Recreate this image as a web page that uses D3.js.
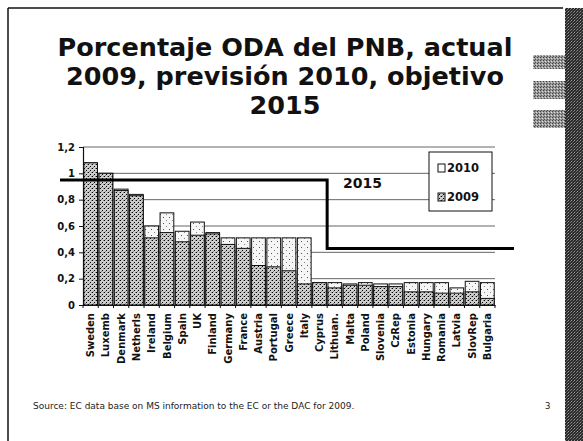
<!DOCTYPE html>
<html>
<head>
<meta charset="utf-8">
<script src="https://cdn.jsdelivr.net/npm/d3@7"></script>
<style>
  html, body { margin: 0; padding: 0; background: #fff; }
  svg { display: block; }
</style>
</head>
<body>
<svg id="chart" width="583" height="441"></svg>
<script>
// ---- data ----
const categories = ["Sweden","Luxemb","Denmark","Netherls","Ireland","Belgium","Spain","UK","Finland","Germany","France","Austria","Portugal","Greece","Italy","Cyprus","Lithuan.","Malta","Poland","Slovenia","CzRep","Estonia","Hungary","Romania","Latvia","SlovRep","Bulgaria"];
const values2009 = [1.08,1.00,0.87,0.83,0.51,0.55,0.48,0.53,0.54,0.46,0.43,0.30,0.29,0.26,0.16,0.17,0.13,0.15,0.15,0.14,0.14,0.10,0.10,0.09,0.09,0.10,0.05];
const values2010 = [1.08,1.00,0.88,0.84,0.60,0.70,0.56,0.63,0.55,0.51,0.51,0.51,0.51,0.51,0.51,0.17,0.17,0.16,0.17,0.16,0.16,0.17,0.17,0.17,0.13,0.18,0.17];
const yTicks = [0,0.2,0.4,0.6,0.8,1,1.2];
const target2015High = 0.95;   // old members (Sweden..Cyprus)
const target2015Low = 0.43;    // from Lithuan. onwards
const stepCategory = "Lithuan.";
const seriesNames = ["2010","2009"];
const titleLines = ["Porcentaje ODA del PNB, actual","2009, previsión 2010, objetivo","2015"];
const targetLabel = "2015";
const sourceText = "Source: EC data base on MS information to the EC or the DAC for 2009.";
const pageNumber = "3";

// ---- setup ----
const svg = d3.select("#chart");
const defs = svg.append("defs");
const FONT = "'DejaVu Sans', Verdana, sans-serif";

function stipple(id, base, dots, size) {
  const p = defs.append("pattern").attr("id", id).attr("patternUnits", "userSpaceOnUse")
    .attr("width", size).attr("height", size);
  p.append("rect").attr("width", size).attr("height", size).attr("fill", base);
  dots.forEach(d => p.append("rect").attr("x", d[0]).attr("y", d[1]).attr("width", 1).attr("height", 1).attr("fill", d[2] || "#000"));
}
stipple("p2009", "#cdcdcd", [[0,0],[2,2],[3,0,"#888"],[1,3,"#888"]], 4);
stipple("p2010", "#f6f6f6", [[1,1,"#555"],[4,4,"#888"]], 6);
stipple("pStrip", "#2a2a2a", [[0,0,"#777"],[2,1,"#555"],[1,2,"#999"]], 3);
stipple("pTab", "#9a9a9a", [[0,0,"#444"],[2,1,"#ddd"],[1,2,"#555"]], 3);

const x = d3.scaleBand().domain(categories).range([83, 495]).paddingInner(0.1).paddingOuter(0.05);
const y = d3.scaleLinear().domain([0, 1.2]).range([305, 147]);
const fmt = d3.formatLocale({decimal: ",", thousands: ".", grouping: [3], currency: ["", ""]}).format(".1~f");

// ---- slide frame ----
svg.append("line").attr("x1", 8).attr("x2", 8).attr("y1", 8).attr("y2", 441).attr("stroke", "#111").attr("stroke-width", 1.5);
svg.append("line").attr("x1", 8).attr("x2", 563).attr("y1", 8).attr("y2", 8).attr("stroke", "#111").attr("stroke-width", 1.5);
svg.append("rect").attr("x", 565).attr("y", 8).attr("width", 18).attr("height", 433).attr("fill", "url(#pStrip)");
[[55,14],[81,18],[110,18]].forEach(t => {
  svg.append("rect").attr("x", 533).attr("y", t[0]).attr("width", 32).attr("height", t[1]).attr("fill", "url(#pTab)");
});

// ---- title ----
const title = svg.append("text").attr("x", 285).attr("text-anchor", "middle")
  .attr("font-family", FONT).attr("font-weight", "bold").attr("font-size", 25.5).attr("fill", "#111");
titleLines.forEach((t, i) => title.append("tspan").attr("x", 285).attr("y", 56 + i * 29).text(t));

// ---- gridlines ----
const g = svg.append("g");
g.selectAll("line.grid").data(yTicks.filter(d => d > 0)).join("line")
  .attr("x1", 83).attr("x2", 495).attr("y1", d => y(d)).attr("y2", d => y(d))
  .attr("stroke", "#666").attr("stroke-width", 1);

// ---- bars ----
const step = x.step();
const bars = g.append("g");
bars.selectAll("rect.b2010").data(categories).join("rect")
  .attr("x", d => x(d)).attr("width", x.bandwidth())
  .attr("y", (d, i) => y(values2010[i])).attr("height", (d, i) => y(0) - y(values2010[i]))
  .attr("fill", "url(#p2010)").attr("stroke", "#111").attr("stroke-width", 1);
bars.selectAll("rect.b2009").data(categories).join("rect")
  .attr("x", d => x(d)).attr("width", x.bandwidth())
  .attr("y", (d, i) => y(values2009[i])).attr("height", (d, i) => y(0) - y(values2009[i]))
  .attr("fill", "url(#p2009)").attr("stroke", "#111").attr("stroke-width", 1);

// ---- axes ----
const yAxis = g.append("g").attr("transform", "translate(83,0)")
  .call(d3.axisLeft(y).tickValues(yTicks).tickFormat(fmt).tickSize(4).tickPadding(4));
yAxis.selectAll("text").attr("font-family", FONT).attr("font-weight", "bold").attr("font-size", 10).attr("fill", "#111");
yAxis.selectAll("line").attr("stroke", "#111");
yAxis.select(".domain").attr("stroke", "#111").attr("stroke-width", 1.2);

const xAxis = g.append("g").attr("transform", "translate(0,305)")
  .call(d3.axisBottom(x).tickSize(0).tickFormat(""));
xAxis.select(".domain").attr("stroke", "#111").attr("stroke-width", 1.2);
// boundary tick marks
xAxis.selectAll("line.bt").data(categories.concat(["__end"])).join("line")
  .attr("x1", (d, i) => 83 + i * (412 / categories.length)).attr("x2", (d, i) => 83 + i * (412 / categories.length))
  .attr("y1", 0).attr("y2", 3).attr("stroke", "#111");
// rotated labels
g.selectAll("text.xl").data(categories).join("text")
  .attr("transform", d => `translate(${x(d) + x.bandwidth() / 2},313) rotate(-90)`)
  .attr("text-anchor", "end").attr("dy", "0.36em")
  .attr("font-family", FONT).attr("font-weight", "bold").attr("font-size", 10).attr("fill", "#111")
  .text(d => d);

// ---- 2015 target line ----
const xStep = x(stepCategory) - step * x.paddingInner() / 2;
const path = d3.path();
path.moveTo(60, y(target2015High));
path.lineTo(xStep, y(target2015High));
path.lineTo(xStep, y(target2015Low));
path.lineTo(514, y(target2015Low));
svg.append("path").attr("d", path.toString()).attr("fill", "none")
  .attr("stroke", "#000").attr("stroke-width", 3);
svg.append("text").attr("x", 343).attr("y", 188)
  .attr("font-family", FONT).attr("font-weight", "bold").attr("font-size", 14).attr("fill", "#111")
  .text(targetLabel);

// ---- legend ----
const lg = svg.append("g").attr("transform", "translate(429,152)");
lg.append("rect").attr("width", 63).attr("height", 59).attr("fill", "#fff").attr("stroke", "#111").attr("stroke-width", 1);
seriesNames.forEach((s, i) => {
  const yy = 16 + i * 29;
  lg.append("rect").attr("x", 9).attr("y", yy - 4).attr("width", 7).attr("height", 8)
    .attr("fill", s === "2009" ? "url(#p2009)" : "#fff").attr("stroke", "#111");
  lg.append("text").attr("x", 18).attr("y", yy).attr("dy", "0.36em")
    .attr("font-family", FONT).attr("font-weight", "bold").attr("font-size", 11.5).attr("fill", "#111")
    .text(s);
});

// ---- footer ----
svg.append("text").attr("x", 33).attr("y", 409)
  .attr("font-family", FONT).attr("font-size", 9).attr("fill", "#222").text(sourceText);
svg.append("text").attr("x", 545).attr("y", 409)
  .attr("font-family", FONT).attr("font-size", 8.5).attr("fill", "#222").text(pageNumber);
</script>
</body>
</html>
